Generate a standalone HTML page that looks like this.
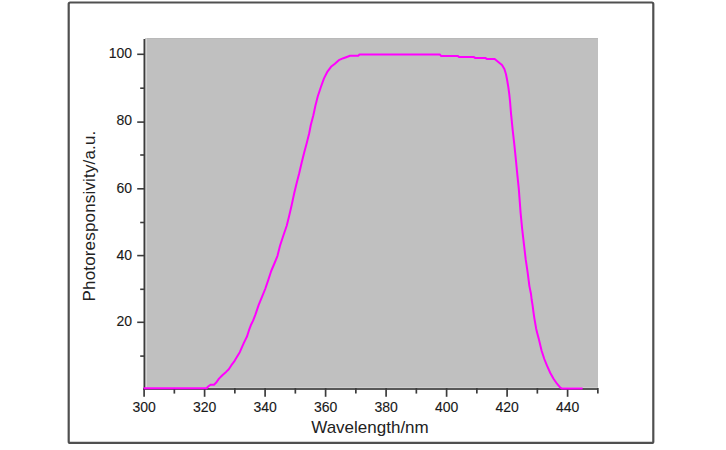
<!DOCTYPE html>
<html><head><meta charset="utf-8"><style>
html,body{margin:0;padding:0;background:#fff;width:726px;height:450px;overflow:hidden}
svg{display:block}
.t{font-family:"Liberation Sans",Arial,sans-serif;font-size:14px;fill:#1a1a1a;stroke:#1a1a1a;stroke-width:0.12px}
.lab{font-family:"Liberation Sans",Arial,sans-serif;font-size:17px;fill:#222}
</style></head><body>
<svg width="726" height="450" viewBox="0 0 726 450">
<rect x="0" y="0" width="726" height="450" fill="#ffffff"/>
<rect x="68.7" y="2.5" width="584.6" height="440.4" rx="1.5" fill="none" stroke="#505050" stroke-width="2.2"/>
<rect x="145" y="38" width="453" height="350" fill="#c0c0c0"/>
<rect x="145" y="38.5" width="2" height="349.5" fill="#d6d6d6"/>
<rect x="147" y="387" width="451" height="1" fill="#cecece"/>
<rect x="147" y="38" width="451" height="1" fill="#b9b9b9"/>
<line x1="144.4" y1="39" x2="144.4" y2="390" stroke="#3c3c3c" stroke-width="1.8"/>
<line x1="143" y1="389" x2="598" y2="389" stroke="#585858" stroke-width="2"/>
<line x1="144.10" y1="388" x2="144.10" y2="396.8" stroke="#3c3c3c" stroke-width="1.7"/>
<text x="144.10" y="412" text-anchor="middle" class="t">300</text>
<line x1="174.35" y1="388" x2="174.35" y2="393.6" stroke="#3c3c3c" stroke-width="1.7"/>
<line x1="204.60" y1="388" x2="204.60" y2="396.8" stroke="#3c3c3c" stroke-width="1.7"/>
<text x="204.60" y="412" text-anchor="middle" class="t">320</text>
<line x1="234.85" y1="388" x2="234.85" y2="393.6" stroke="#3c3c3c" stroke-width="1.7"/>
<line x1="265.10" y1="388" x2="265.10" y2="396.8" stroke="#3c3c3c" stroke-width="1.7"/>
<text x="265.10" y="412" text-anchor="middle" class="t">340</text>
<line x1="295.35" y1="388" x2="295.35" y2="393.6" stroke="#3c3c3c" stroke-width="1.7"/>
<line x1="325.60" y1="388" x2="325.60" y2="396.8" stroke="#3c3c3c" stroke-width="1.7"/>
<text x="325.60" y="412" text-anchor="middle" class="t">360</text>
<line x1="355.85" y1="388" x2="355.85" y2="393.6" stroke="#3c3c3c" stroke-width="1.7"/>
<line x1="386.10" y1="388" x2="386.10" y2="396.8" stroke="#3c3c3c" stroke-width="1.7"/>
<text x="386.10" y="412" text-anchor="middle" class="t">380</text>
<line x1="416.35" y1="388" x2="416.35" y2="393.6" stroke="#3c3c3c" stroke-width="1.7"/>
<line x1="446.60" y1="388" x2="446.60" y2="396.8" stroke="#3c3c3c" stroke-width="1.7"/>
<text x="446.60" y="412" text-anchor="middle" class="t">400</text>
<line x1="476.85" y1="388" x2="476.85" y2="393.6" stroke="#3c3c3c" stroke-width="1.7"/>
<line x1="507.10" y1="388" x2="507.10" y2="396.8" stroke="#3c3c3c" stroke-width="1.7"/>
<text x="507.10" y="412" text-anchor="middle" class="t">420</text>
<line x1="537.35" y1="388" x2="537.35" y2="393.6" stroke="#3c3c3c" stroke-width="1.7"/>
<line x1="567.60" y1="388" x2="567.60" y2="396.8" stroke="#3c3c3c" stroke-width="1.7"/>
<text x="567.60" y="412" text-anchor="middle" class="t">440</text>
<line x1="597.85" y1="388" x2="597.85" y2="393.6" stroke="#3c3c3c" stroke-width="1.7"/>
<line x1="137.2" y1="54.3" x2="144" y2="54.3" stroke="#3c3c3c" stroke-width="1.6"/>
<text x="132" y="58.3" text-anchor="end" class="t">100</text>
<line x1="137.2" y1="122.1" x2="144" y2="122.1" stroke="#3c3c3c" stroke-width="1.6"/>
<text x="132" y="125.2" text-anchor="end" class="t">80</text>
<line x1="137.2" y1="188.8" x2="144" y2="188.8" stroke="#3c3c3c" stroke-width="1.6"/>
<text x="132" y="193.0" text-anchor="end" class="t">60</text>
<line x1="137.2" y1="255.6" x2="144" y2="255.6" stroke="#3c3c3c" stroke-width="1.6"/>
<text x="132" y="259.8" text-anchor="end" class="t">40</text>
<line x1="137.2" y1="322.3" x2="144" y2="322.3" stroke="#3c3c3c" stroke-width="1.6"/>
<text x="132" y="326.1" text-anchor="end" class="t">20</text>
<line x1="140.2" y1="88.2" x2="144" y2="88.2" stroke="#3c3c3c" stroke-width="1.6"/>
<line x1="140.2" y1="155.0" x2="144" y2="155.0" stroke="#3c3c3c" stroke-width="1.6"/>
<line x1="140.2" y1="222.5" x2="144" y2="222.5" stroke="#3c3c3c" stroke-width="1.6"/>
<line x1="140.2" y1="289.3" x2="144" y2="289.3" stroke="#3c3c3c" stroke-width="1.6"/>
<line x1="140.2" y1="356.1" x2="144" y2="356.1" stroke="#3c3c3c" stroke-width="1.6"/>
<path d="M143.5,388.3 L206.5,388.3 L208.5,386.3 L210.5,384.8 L214.0,384.7 L216.0,382.8 L219.0,378.6 L222.6,375.0 L226.1,371.9 L228.8,369.2 L231.4,365.2 L234.1,361.7 L236.1,358.3 L239.8,352.2 L242.2,346.7 L244.1,342.4 L247.1,336.3 L249.0,330.2 L250.8,325.3 L253.2,320.4 L255.4,314.6 L258.7,304.9 L262.3,296.2 L265.2,289.0 L268.4,279.6 L271.2,271.0 L274.6,263.0 L277.5,255.8 L280.0,245.8 L283.3,235.8 L286.7,225.8 L289.2,215.8 L291.7,205.0 L294.2,193.3 L296.5,183.8 L299.2,173.3 L301.7,162.5 L304.2,152.5 L306.7,143.3 L309.2,133.3 L310.8,125.0 L313.3,115.5 L315.4,105.7 L317.8,96.3 L320.9,87.0 L324.0,78.4 L327.1,72.2 L331.0,66.8 L334.9,63.7 L338.8,60.2 L343.4,58.2 L348.1,56.5 L350.0,55.8 L358.2,55.8 L359.5,54.5 L440.0,54.5 L441.0,56.0 L458.0,56.0 L459.0,57.1 L474.0,57.1 L475.0,57.9 L485.3,57.9 L486.7,58.9 L494.7,58.9 L498.0,61.7 L502.0,65.0 L504.4,69.0 L506.0,74.3 L507.3,81.0 L508.4,87.7 L509.3,94.3 L510.0,101.0 L511.0,113.3 L512.8,131.1 L514.3,144.4 L515.7,157.8 L517.2,173.3 L518.8,188.9 L520.6,212.8 L522.1,228.3 L523.9,243.9 L525.7,259.4 L527.7,272.8 L529.4,286.1 L531.0,294.0 L531.7,300.0 L532.6,305.3 L533.4,311.6 L534.3,317.8 L535.2,323.1 L536.1,328.4 L537.4,333.8 L538.8,339.1 L541.7,351.0 L544.3,359.0 L547.0,365.7 L550.3,373.0 L553.7,379.0 L557.0,383.7 L560.3,387.7 L561.7,388.4 L582.6,388.4" fill="none" stroke="#ff00ff" stroke-width="2" stroke-linejoin="round" stroke-linecap="butt"/>
<text x="370" y="433" text-anchor="middle" class="lab">Wavelength/nm</text>
<text transform="translate(95,216) rotate(-90)" text-anchor="middle" class="lab" letter-spacing="0.17">Photoresponsivity/a.u.</text>
</svg>
</body></html>
